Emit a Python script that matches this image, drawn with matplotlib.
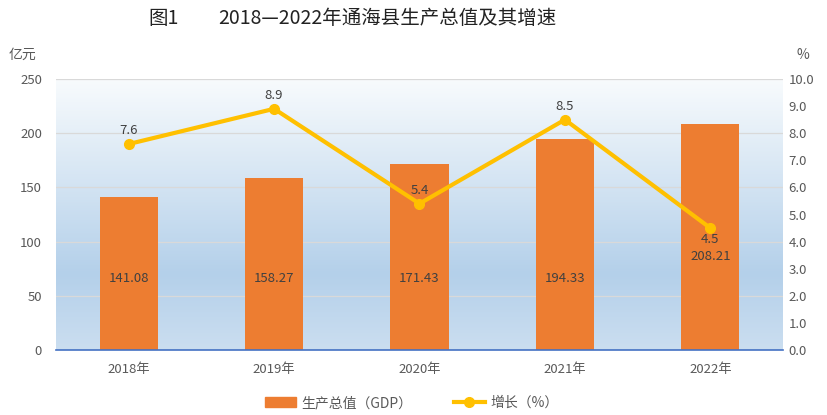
import numpy as np
import matplotlib
matplotlib.use("Agg")
import matplotlib.pyplot as plt
from matplotlib.colors import LinearSegmentedColormap
from matplotlib.lines import Line2D
from matplotlib.patches import Patch

plt.rcParams["font.family"] = ["Noto Sans CJK SC", "DejaVu Sans"]

years = ["2018年", "2019年", "2020年", "2021年", "2022年"]
gdp = [141.08, 158.27, 171.43, 194.33, 208.21]
growth = [7.6, 8.9, 5.4, 8.5, 4.5]

BAR = "#ED7D31"
LINE = "#FFC000"
TICK = "#595959"
LBL = "#404040"

fig = plt.figure(figsize=(8.28, 4.15), dpi=100)
ax = fig.add_axes([56 / 828, 65 / 415, 727 / 828, 271 / 415])
ax2 = ax.twinx()

x = np.arange(len(years))
ax.set_xlim(-0.5, len(years) - 0.5)
ax2.set_ylim(0, 10)

# background gradient of the plot area (white on top, blue lower down)
cmap = LinearSegmentedColormap.from_list(
    "bg", [(0, "#f8fbfd"), (0.72, "#b4d0ea"), (1, "#cbdef0")])
grad = np.linspace(0, 1, 256).reshape(-1, 1)
ax.imshow(grad, cmap=cmap, aspect="auto", origin="upper",
          extent=(-0.5, 4.5, 0, 250), zorder=0)
ax.set_ylim(0, 250)

ax.set_yticks(range(0, 251, 50))
ax.grid(axis="y", color="#d9d9d9", lw=0.9, zorder=1)
ax.set_axisbelow(True)

ax.bar(x, gdp, width=0.4, color=BAR, zorder=2)
for i, v in enumerate(gdp):
    ypos = 86 if i == len(gdp) - 1 else 66
    ax.text(i, ypos, f"{v:.2f}", ha="center", va="center", fontsize=9.5, color=LBL, zorder=5)

ax2.plot(x, growth, color=LINE, lw=3, marker="o", ms=7, zorder=4)
for i, v in enumerate(growth):
    if i == len(growth) - 1:
        ax2.text(i, v - 0.2, f"{v}", ha="center", va="top", fontsize=9.5, color=LBL)
    else:
        ax2.text(i, v + 0.25, f"{v}", ha="center", va="bottom", fontsize=9.5, color=LBL)

ax.set_xticks(x)
ax.set_xticklabels(years)
ax2.set_yticks(range(0, 11))
ax2.set_yticklabels([f"{t:.1f}" for t in range(0, 11)])

for a in (ax, ax2):
    for s in a.spines.values():
        s.set_visible(False)
    a.tick_params(length=0, labelsize=9.5, colors=TICK)
ax.spines["bottom"].set_visible(True)
ax.spines["bottom"].set_color("#4472C4")
ax.spines["bottom"].set_linewidth(1.2)
ax.tick_params(axis="x", pad=9)
ax.tick_params(axis="y", pad=10)
ax2.tick_params(axis="y", pad=4)

fig.text(22 / 828, 1 - 55 / 415, "亿元", ha="center", va="center", fontsize=10, color=TICK)
fig.text(803 / 828, 1 - 55 / 415, "%", ha="center", va="center", fontsize=10, color=TICK)

fig.text(148 / 828, 1 - 18 / 415, "图1", ha="left", va="center", fontsize=14, color="#222222")
fig.text(218 / 828, 1 - 18 / 415, "2018—2022年通海县生产总值及其增速",
         ha="left", va="center", fontsize=14, color="#222222")

handles = [Patch(color=BAR), Line2D([], [], color=LINE, lw=3, marker="o", ms=7)]
fig.legend(handles, ["生产总值（GDP）", "增长（%）"], loc="center",
           bbox_to_anchor=(412 / 828, 1 - 403 / 415), ncol=2, frameon=False,
           fontsize=10, labelcolor=TICK, columnspacing=3.0, handlelength=2.2,
           handletextpad=0.4)

fig.savefig("out.png", dpi=100)
